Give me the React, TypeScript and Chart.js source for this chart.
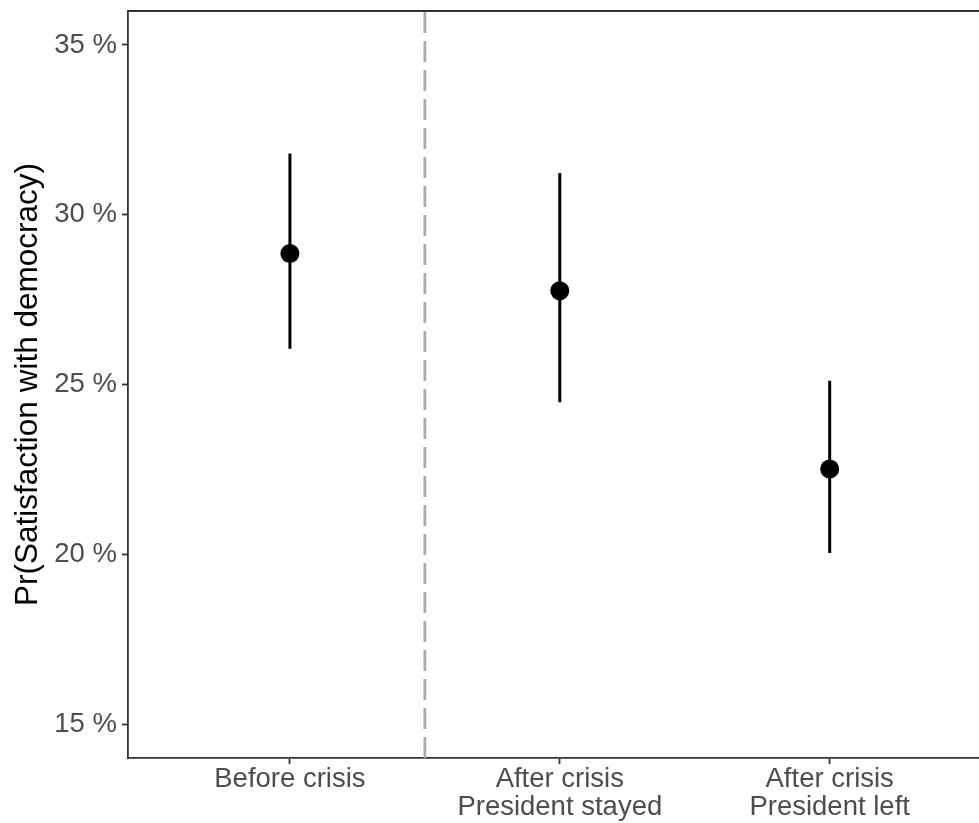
import { useEffect, useRef } from "react";
import { Chart, registerables } from "chart.js";

Chart.register(...registerables);

const categories: string[][] = [
  ["Before crisis"],
  ["After crisis", "President stayed"],
  ["After crisis", "President left"],
];
const estimates = [28.86, 27.76, 22.51];
const lower = [26.05, 24.48, 20.04];
const upper = [31.8, 31.23, 25.11];
const yTicks = [15, 20, 25, 30, 35];
const yTickLabels = ["15 %", "20 %", "25 %", "30 %", "35 %"];
const dividerAt = 0.5;
const yTitle = "Pr(Satisfaction with democracy)";

const FONT = "'Liberation Sans', Arial, Helvetica, sans-serif";
const AXIS = "#333333";
const W = 1010;
const H = 823;

export default function App() {
  const ref = useRef<HTMLCanvasElement | null>(null);

  useEffect(() => {
    if (!ref.current) return;
    const xMin = -0.6;
    const xMax = categories.length - 1 + 0.6;
    const yMin = 14;
    const yMax = 36;

    const errorSets = categories.map((_, i) => ({
      type: "line" as const,
      data: [
        { x: i, y: lower[i] },
        { x: i, y: upper[i] },
      ],
      borderColor: "#000000",
      borderWidth: 3,
      borderCapStyle: "butt" as const,
      pointRadius: 0,
      showLine: true,
      order: 1,
    }));

    const chart = new Chart(ref.current, {
      type: "scatter",
      data: {
        datasets: [
          {
            data: estimates.map((v, i) => ({ x: i, y: v })),
            backgroundColor: "#000000",
            borderColor: "#000000",
            pointRadius: 9.5,
            pointBorderWidth: 0,
            order: 0,
          } as any,
          ...errorSets,
          {
            type: "line",
            data: [
              { x: dividerAt, y: yMin },
              { x: dividerAt, y: yMax },
            ],
            borderColor: "#ABABAB",
            borderWidth: 2.8,
            borderDash: [21, 8],
            borderCapStyle: "butt",
            pointRadius: 0,
            showLine: true,
            order: 2,
          },
        ],
      },
      options: {
        animation: false,
        responsive: false,
        maintainAspectRatio: false,
        layout: { padding: { left: 0, top: 0, right: 18.4, bottom: 0 } },
        plugins: { legend: { display: false }, tooltip: { enabled: false } },
        scales: {
          x: {
            type: "linear",
            position: "bottom",
            min: xMin,
            max: xMax,
            afterBuildTicks: (s: any) => {
              s.ticks = categories.map((_, i) => ({ value: i }));
            },
            afterFit: (s: any) => {
              s.height = 65;
              s.paddingLeft = 0;
              s.paddingRight = 0;
            },
            ticks: {
              callback: (_v: any, i: number) => categories[i],
              color: "#4D4D4D",
              font: { family: FONT, size: 27.5, lineHeight: 1.03 },
              padding: 1,
              autoSkip: false,
              maxRotation: 0,
              minRotation: 0,
            },
            grid: {
              display: true,
              drawOnChartArea: false,
              drawTicks: true,
              tickLength: 6,
              tickWidth: 1.8,
              tickColor: AXIS,
              color: AXIS,
            },
            border: { display: true, color: AXIS, width: 1.8 },
          },
          x2: {
            type: "linear",
            position: "top",
            min: xMin,
            max: xMax,
            ticks: { display: false },
            grid: { display: false },
            border: { display: true, color: AXIS, width: 2 },
            afterFit: (s: any) => {
              s.height = 11;
              s.paddingLeft = 0;
              s.paddingRight = 0;
            },
          },
          y: {
            type: "linear",
            position: "left",
            min: yMin,
            max: yMax,
            afterBuildTicks: (s: any) => {
              s.ticks = yTicks.map((v) => ({ value: v }));
            },
            afterFit: (s: any) => {
              s.width = 128;
              s.paddingTop = 0;
              s.paddingBottom = 0;
            },
            ticks: {
              callback: (_v: any, i: number) => yTickLabels[i],
              color: "#4D4D4D",
              font: { family: FONT, size: 27.5 },
              padding: 5,
            },
            grid: {
              display: true,
              drawOnChartArea: false,
              drawTicks: true,
              tickLength: 6,
              tickWidth: 1.8,
              tickColor: AXIS,
              color: AXIS,
            },
            border: { display: true, color: AXIS, width: 1.8 },
            title: {
              display: true,
              text: yTitle,
              color: "#000000",
              font: { family: FONT, size: 31.5 },
              padding: { top: 9, bottom: 0 },
            },
          },
        },
      } as any,
    });
    return () => chart.destroy();
  }, []);

  return (
    <div
      style={{
        position: "fixed",
        left: 0,
        top: 0,
        width: 979,
        height: 823,
        overflow: "hidden",
        background: "#ffffff",
      }}
    >
      <canvas ref={ref} width={W} height={H} style={{ width: W, height: H, display: "block" }} />
    </div>
  );
}
